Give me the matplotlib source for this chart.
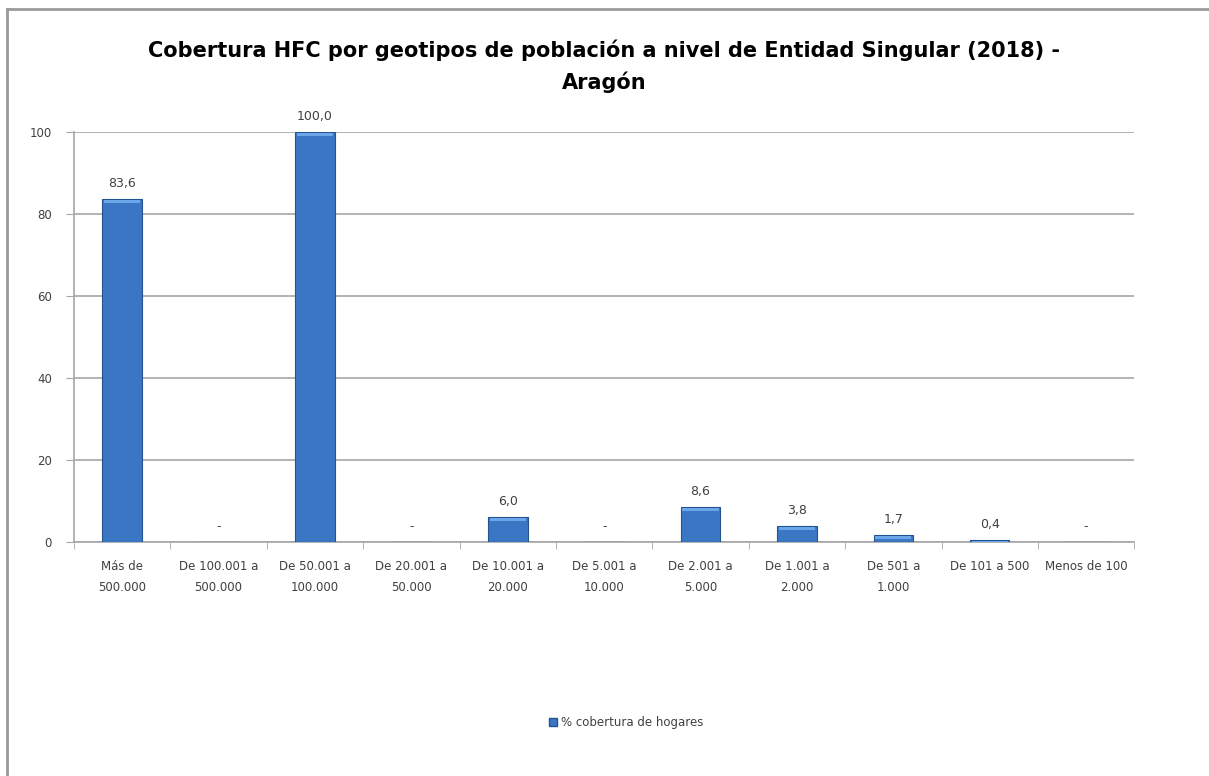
import numpy as np
import matplotlib
matplotlib.use("Agg")
import matplotlib.pyplot as plt
from matplotlib.lines import Line2D
from matplotlib.patches import Patch

categories = ["Más de\n500.000", "De 100.001 a\n500.000", "De 50.001 a\n100.000",
              "De 20.001 a\n50.000", "De 10.001 a\n20.000", "De 5.001 a\n10.000",
              "De 2.001 a\n5.000", "De 1.001 a\n2.000", "De 501 a\n1.000",
              "De 101 a 500", "Menos de 100"]
values = [83.6, 0.0, 100.0, 0.0, 6.0, 0.0, 8.6, 3.8, 1.7, 0.4, 0.0]
yticks = [0, 20, 40, 60, 80, 100]
title = "Cobertura HFC por geotipos de población a nivel de Entidad Singular (2018) -\nAragón"
legend_label = "% cobertura de hogares"

plt.rcParams["font.family"] = ["DejaVu Sans"]
TXT = "#404040"
GRID = "#a6a6a6"
BLUE = "#3a76c4"

fig = plt.figure(figsize=(12.09, 7.76), dpi=100)
ax = fig.add_axes([0.0612, 0.3015, 0.8770, 0.5284])

xs = np.arange(len(values))
w = 0.41
ax.bar(xs, values, width=w, color=BLUE, edgecolor="#24548f", linewidth=0.8, zorder=3)
# light bevel on top of each bar
cap = np.minimum(np.array(values), 1.3)
ax.bar(xs, cap * 0.6, width=w * 0.92, bottom=np.array(values) - cap * 0.75,
       color="#6aa6e8", linewidth=0, zorder=4)

for x, v in zip(xs, values):
    lab = f"{v:.1f}".replace(".", ",") if v > 0 else "-"
    ax.text(x, v + 2.2, lab, ha="center", va="bottom", fontsize=9, color=TXT)

ax.set_xlim(-0.5, len(values) - 0.5)
ax.set_ylim(0, 100)
ax.set_yticks(yticks)
ax.set_yticklabels([str(t) for t in yticks], fontsize=8.5, color=TXT)
ax.yaxis.grid(True, color=GRID, linewidth=1.2, zorder=0)
ax.set_axisbelow(True)
ax.tick_params(axis="y", length=6, color=GRID, pad=10)

ax.set_xticks(xs)
ax.set_xticklabels(categories, fontsize=8.5, color=TXT, linespacing=1.75)
ax.set_xticks(np.arange(len(values) + 1) - 0.5, minor=True)
ax.tick_params(axis="x", which="major", length=0, pad=13)
ax.tick_params(axis="x", which="minor", length=5, color=GRID)

for s in ["top", "right"]:
    ax.spines[s].set_visible(False)
ax.spines["left"].set_color(GRID)
ax.spines["bottom"].set_color(GRID)
ax.spines["left"].set_linewidth(1.2)
ax.spines["bottom"].set_linewidth(1.2)

fig.text(0.5, 0.915, title, ha="center", va="center", fontsize=15,
         fontweight="bold", color="black", linespacing=1.6)

fig.legend(handles=[Patch(facecolor=BLUE, edgecolor="#24548f", label=legend_label)],
           loc="center", bbox_to_anchor=(0.518, 0.069), frameon=False, fontsize=8.5,
           handlelength=0.7, handleheight=0.7, handletextpad=0.3, labelcolor=TXT)

# outer chart border (top and left visible)
fig.add_artist(Line2D([0.006, 1.0], [0.988, 0.988], color="#9a9a9a", linewidth=2,
                      transform=fig.transFigure))
fig.add_artist(Line2D([0.006, 0.006], [0.0, 0.988], color="#9a9a9a", linewidth=2,
                      transform=fig.transFigure))

fig.savefig("out.png", dpi=100)
